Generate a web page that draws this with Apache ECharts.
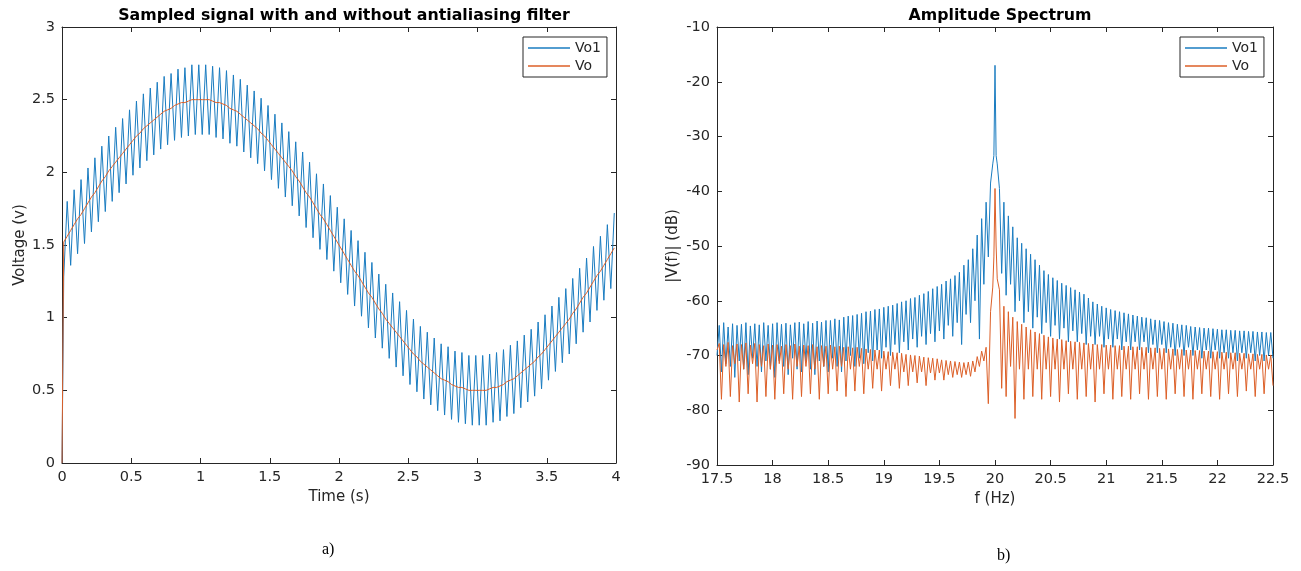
<!DOCTYPE html>
<html><head><meta charset="utf-8">
<script src="https://cdn.jsdelivr.net/npm/echarts@6/dist/echarts.min.js"></script>
<style>html,body{margin:0;padding:0;background:#fff}#c{width:1301px;height:571px}</style>
</head><body><div id="c"></div>
<script>
// ---- Left chart: sampled signal (time in s, voltage in V) ----
const timeStart = 0.0125, timeStep = 0.025;
const vo1Values = [1.28,1.80,1.36,1.88,1.44,1.95,1.51,2.03,1.59,2.10,
1.66,2.18,1.73,2.25,1.80,2.31,1.86,2.37,1.92,2.43,
1.98,2.49,2.03,2.54,2.08,2.58,2.12,2.62,2.16,2.66,
2.19,2.68,2.22,2.71,2.24,2.72,2.25,2.74,2.26,2.74,
2.26,2.74,2.26,2.73,2.24,2.72,2.23,2.70,2.20,2.67,
2.18,2.64,2.14,2.60,2.10,2.56,2.06,2.51,2.01,2.46,
1.95,2.40,1.89,2.34,1.83,2.28,1.77,2.21,1.70,2.14,
1.62,2.07,1.55,1.99,1.47,1.92,1.40,1.84,1.32,1.76,
1.24,1.68,1.16,1.60,1.08,1.53,1.01,1.45,0.93,1.38,
0.86,1.30,0.79,1.23,0.72,1.17,0.66,1.11,0.60,1.05,
0.54,0.99,0.49,0.94,0.44,0.90,0.40,0.86,0.36,0.82,
0.33,0.80,0.30,0.77,0.28,0.76,0.27,0.74,0.26,0.74,
0.26,0.74,0.26,0.75,0.28,0.76,0.29,0.78,0.32,0.81,
0.34,0.84,0.38,0.88,0.42,0.92,0.46,0.97,0.51,1.02,
0.57,1.08,0.63,1.14,0.69,1.20,0.75,1.27,0.82,1.34,
0.90,1.41,0.97,1.49,1.05,1.56,1.12,1.64,1.20,1.72];
const voValues = [1.52,1.56,1.60,1.64,1.68,1.71,1.75,1.79,1.83,1.86,
1.90,1.94,1.97,2.01,2.04,2.07,2.10,2.13,2.16,2.19,
2.22,2.25,2.27,2.30,2.32,2.34,2.36,2.38,2.40,2.42,
2.43,2.44,2.46,2.47,2.48,2.48,2.49,2.50,2.50,2.50,
2.50,2.50,2.50,2.49,2.48,2.48,2.47,2.46,2.44,2.43,
2.42,2.40,2.38,2.36,2.34,2.32,2.30,2.27,2.25,2.22,
2.19,2.16,2.13,2.10,2.07,2.04,2.01,1.97,1.94,1.90,
1.86,1.83,1.79,1.75,1.71,1.68,1.64,1.60,1.56,1.52,
1.48,1.44,1.40,1.36,1.32,1.29,1.25,1.21,1.17,1.14,
1.10,1.06,1.03,0.99,0.96,0.93,0.90,0.87,0.84,0.81,
0.78,0.75,0.73,0.70,0.68,0.66,0.64,0.62,0.60,0.58,
0.57,0.56,0.54,0.53,0.52,0.52,0.51,0.50,0.50,0.50,
0.50,0.50,0.50,0.51,0.52,0.52,0.53,0.54,0.56,0.57,
0.58,0.60,0.62,0.64,0.66,0.68,0.70,0.73,0.75,0.78,
0.81,0.84,0.87,0.90,0.93,0.96,0.99,1.03,1.06,1.10,
1.14,1.17,1.21,1.25,1.29,1.32,1.36,1.40,1.44,1.48];
const signalStart = [0, 0]; // both signals start from 0 V at t = 0

// ---- Right chart: amplitude spectrum (f in Hz, |V(f)| in dB) ----
const freqStart = 17.5, freqStep = 0.02;
const specVo1 = [
-70,-64.5,-73,-64,-71.5,-64.8,-72,-64.2,-74,-64.5,
-71,-64.3,-72.5,-64,-73.5,-64.6,-70.5,-64.2,-72,-64.4,
-73,-64,-71,-64.5,-72.5,-64.2,-74,-64,-71,-64.3,
-72,-64.1,-73.5,-64.4,-70.5,-64,-72.5,-63.9,-73,-64.2,
-71,-63.8,-72.5,-64.1,-73.5,-63.7,-71,-63.9,-72,-63.6,
-73,-63.6,-70.5,-63.3,-72,-63.5,-73,-63,-71,-62.8,
-70,-62.7,-72,-62.5,-70.5,-62.3,-71.5,-62,-69.5,-61.9,
-71,-61.6,-69,-61.5,-70.5,-61.2,-68.5,-61,-70,-60.8,
-68,-60.5,-69.5,-60.2,-67.5,-60,-69,-59.6,-67,-59.4,
-68.5,-59,-66.5,-58.7,-68,-58.3,-66,-57.8,-67.5,-57.4,
-65.5,-57,-67,-56.4,-64.5,-56,-66.5,-55.4,-64,-54.8,
-68,-53.5,-62.5,-52.5,-64,-50.5,-60,-48,-67,-45,
-57,-42,-52,-38.5,-35,-17,-35,-39.5,-55,-42,
-59,-44.5,-57,-46.5,-62,-48.5,-60,-49.5,-64,-50.5,
-62,-51.5,-65,-52.5,-63,-53.5,-66,-54.5,-64,-55.2,
-66.5,-55.8,-64.5,-56.3,-67,-56.8,-65,-57.2,-67.5,-57.6,
-65.5,-58,-67.5,-58.4,-66,-58.8,-68,-59.5,-66.5,-60.2,
-68,-60.6,-66.5,-61,-68.5,-61.3,-67,-61.6,-68.5,-61.8,
-67,-62,-69,-62.2,-67.5,-62.4,-69,-62.6,-67.5,-62.8,
-69,-63,-67.5,-63.1,-69.5,-63.3,-68,-63.5,-69.5,-63.6,
-68,-63.8,-69.5,-64,-68.5,-64.1,-70,-64.3,-68.5,-64.4,
-70,-64.5,-68.5,-64.7,-70,-64.8,-69,-64.9,-70.5,-65,
-69,-65,-70.5,-65.1,-69,-65.2,-70.5,-65.3,-69.5,-65.3,
-70.5,-65.4,-69.5,-65.4,-71,-65.5,-69.5,-65.5,-70.5,-65.6,
-69.5,-65.6,-71,-65.7,-70,-65.7,-71,-65.8,-70,-65.8,
-70.5];
const specVo = [
-69,-67.8,-78,-68,-72,-67.6,-77.5,-68.2,-71.5,-67.9,
-78.5,-68,-72.5,-67.7,-77,-68.1,-71.5,-67.8,-78.5,-68,
-72,-68.2,-77.5,-67.9,-72.5,-68.1,-78,-68,-71.5,-68.3,
-77,-68,-72.5,-68.2,-78,-67.9,-72,-68.3,-77.5,-68.1,
-72,-68.2,-77,-68,-72.5,-68.4,-78,-68.2,-72,-68.3,
-77,-68.1,-72.5,-68.4,-76.5,-68.3,-72,-68.5,-77.5,-68.4,
-72.5,-68.6,-76.5,-68.5,-72,-68.7,-77,-68.8,-72.5,-68.9,
-76,-69,-72.5,-69,-76.5,-69.2,-72.5,-69.3,-75.5,-69.4,
-72.5,-69.5,-76,-69.6,-73,-69.8,-75.5,-69.9,-73,-70,
-75,-70.1,-73,-70.3,-75.5,-70.4,-73.2,-70.5,-74.5,-70.6,
-73.2,-70.8,-74.5,-70.9,-73.5,-71,-74,-71.1,-73.5,-71.2,
-74,-71.3,-73.5,-71.2,-73.8,-71,-73,-70.2,-72,-69.2,
-71,-68.5,-78.8,-62,-57.5,-39.5,-56,-58,-76,-61,
-77.5,-62,-72,-63,-81.5,-63.8,-72.5,-64.3,-78,-64.8,
-72.5,-65.3,-77.5,-65.7,-72.5,-66,-78,-66.3,-72.5,-66.6,
-77.5,-66.8,-72.5,-67,-78.5,-67.1,-72.5,-67.3,-77,-67.4,
-72.5,-67.5,-78,-67.6,-72.5,-67.7,-77.5,-67.8,-72.5,-67.9,
-78.5,-68,-72.5,-68,-77,-68.1,-72.5,-68.1,-78,-68.2,
-72.5,-68.2,-77.5,-68.3,-72.5,-68.3,-78,-68.4,-72.5,-68.4,
-77,-68.5,-72.5,-68.5,-78,-68.6,-72.5,-68.6,-77.5,-68.7,
-72.5,-68.7,-78,-68.8,-72.5,-68.8,-77,-68.9,-72.5,-68.9,
-77.5,-69,-72.5,-69,-78,-69.1,-72.5,-69.1,-77,-69.2,
-72.5,-69.2,-77.5,-69.3,-72.5,-69.3,-78,-69.4,-72.5,-69.4,
-77,-69.5,-72.5,-69.5,-77.5,-69.6,-72.5,-69.6,-76.5,-69.7,
-72.5,-69.7,-77.5,-69.8,-72.5,-69.8,-77,-69.9,-72.5,-69.9,
-75.5];
// extra points read at the narrow 20 Hz peak
const specVo1Peak = [[19.99, -33.5], [20.01, -33.5]];
const specVoPeak = [[19.99, -52], [20.01, -50]];

const seriesNames = ['Vo1', 'Vo'];
const colors = ['#1a7cc0', '#dc5f27'];

function timeSeries(vals) {
  return [signalStart].concat(vals.map((v, i) => [+(timeStart + i * timeStep).toFixed(4), v]));
}
function freqSeries(vals, extra) {
  const pts = vals.map((v, i) => [+(freqStart + i * freqStep).toFixed(3), v]).concat(extra);
  pts.sort((a, b) => a[0] - b[0]);
  return pts;
}

const FONT = 'DejaVu Sans';
const AX = '#262626';
function axisBase(min, max, interval, showLabel, position, gridIndex, extra) {
  return Object.assign({
    type: 'value', gridIndex, min, max, interval, position,
    axisLine: { show: true, onZero: false, lineStyle: { color: AX, width: 1 } },
    axisTick: { show: true, inside: true, length: 5, lineStyle: { color: AX } },
    splitLine: { show: false },
    axisLabel: { show: showLabel, color: AX, fontFamily: FONT, fontSize: 14.5, margin: 7 },
    nameTextStyle: { color: AX, fontFamily: FONT, fontSize: 15 }
  }, extra || {});
}

const chart = echarts.init(document.getElementById('c'), null, { renderer: 'canvas' });
const legendBase = {
  orient: 'vertical', top: 37, icon: 'rect', itemWidth: 42, itemHeight: 1.5, itemGap: 4,
  borderColor: AX, borderWidth: 1, padding: [4, 6, 4, 5], backgroundColor: '#fff',
  textStyle: { color: AX, fontFamily: FONT, fontSize: 14 }, data: seriesNames
};
chart.setOption({
  animation: false,
  color: colors,
  title: [
    { text: 'Sampled signal with and without antialiasing filter', left: 339, top: 3, textAlign: 'center',
      textStyle: { fontFamily: FONT, fontSize: 15.8, fontWeight: 'bold', color: '#000' } },
    { text: 'Amplitude Spectrum', left: 995, top: 3, textAlign: 'center',
      textStyle: { fontFamily: FONT, fontSize: 15.8, fontWeight: 'bold', color: '#000' } }
  ],
  legend: [
    Object.assign({}, legendBase, { left: 523 }),
    Object.assign({}, legendBase, { left: 1180 })
  ],
  grid: [
    { left: 62, top: 27, width: 554, height: 436 },
    { left: 717, top: 27, width: 556, height: 438 }
  ],
  xAxis: [
    axisBase(0, 4, 0.5, true, 'bottom', 0, { name: 'Time (s)', nameLocation: 'middle', nameGap: 27 }),
    axisBase(0, 4, 0.5, false, 'top', 0),
    axisBase(17.5, 22.5, 0.5, true, 'bottom', 1, { name: 'f (Hz)', nameLocation: 'middle', nameGap: 27 }),
    axisBase(17.5, 22.5, 0.5, false, 'top', 1)
  ],
  yAxis: [
    axisBase(0, 3, 0.5, true, 'left', 0, { name: 'Voltage (v)', nameLocation: 'middle', nameGap: 34 }),
    axisBase(0, 3, 0.5, false, 'right', 0),
    axisBase(-90, -10, 10, true, 'left', 1, { name: '|V(f)| (dB)', nameLocation: 'middle', nameGap: 36 }),
    axisBase(-90, -10, 10, false, 'right', 1)
  ],
  series: [
    { name: 'Vo1', type: 'line', xAxisIndex: 0, yAxisIndex: 0, data: timeSeries(vo1Values),
      showSymbol: false, lineStyle: { width: 1, color: colors[0] }, itemStyle: { color: colors[0] } },
    { name: 'Vo', type: 'line', xAxisIndex: 0, yAxisIndex: 0, data: timeSeries(voValues),
      showSymbol: false, lineStyle: { width: 1, color: colors[1] }, itemStyle: { color: colors[1] } },
    { name: 'Vo1', type: 'line', xAxisIndex: 2, yAxisIndex: 2, data: freqSeries(specVo1, specVo1Peak),
      showSymbol: false, lineStyle: { width: 1, color: colors[0] }, itemStyle: { color: colors[0] } },
    { name: 'Vo', type: 'line', xAxisIndex: 2, yAxisIndex: 2, data: freqSeries(specVo, specVoPeak),
      showSymbol: false, lineStyle: { width: 1, color: colors[1] }, itemStyle: { color: colors[1] } }
  ],
  graphic: [
    { type: 'text', left: 322, top: 542, style: { text: 'a)', fontFamily: 'Liberation Serif', fontSize: 16, fill: '#000' } },
    { type: 'text', left: 997, top: 548, style: { text: 'b)', fontFamily: 'Liberation Serif', fontSize: 16, fill: '#000' } }
  ]
});
</script>
</body></html>
